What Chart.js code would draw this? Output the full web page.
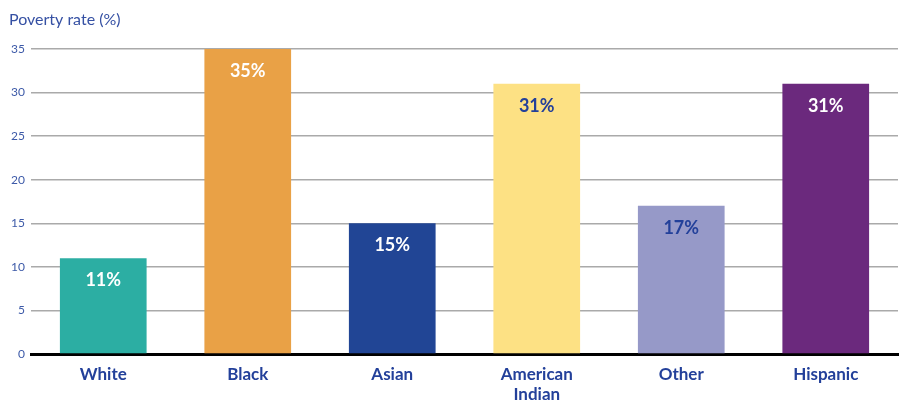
<!DOCTYPE html>
<html>
<head>
<meta charset="utf-8">
<script src="https://cdn.jsdelivr.net/npm/chart.js@4.4.1/dist/chart.umd.min.js"></script>
<style>
  html, body { margin: 0; padding: 0; background: #fff; }
  #wrap { width: 903px; height: 403px; }
</style>
</head>
<body>
<div id="wrap"><canvas id="chart"></canvas></div>
<script>
const categories = [["White"], ["Black"], ["Asian"], ["American", "Indian"], ["Other"], ["Hispanic"]];
const rates = [11, 35, 15, 31, 17, 31];
const barColors = ["#2caea3", "#e9a146", "#214595", "#fde184", "#9699c8", "#6b297d"];
const labelColors = ["#ffffff", "#ffffff", "#ffffff", "#23409a", "#23409a", "#ffffff"];
const axisTitle = "Poverty rate (%)";

const blue = "#23409a";

// value labels inside the bars + axis title top left
const barLabels = {
    id: "barLabels",
    afterDatasetsDraw(chart) {
        const ctx = chart.ctx;
        const meta = chart.getDatasetMeta(0);
        ctx.save();
        ctx.font = "bold 18px Lato";
        ctx.textAlign = "center";
        ctx.textBaseline = "middle";
        meta.data.forEach((bar, i) => {
            ctx.fillStyle = labelColors[i];
            ctx.fillText(rates[i] + "%", bar.x, bar.y + 22);
        });
        ctx.font = "16px Lato";
        ctx.textAlign = "left";
        ctx.fillStyle = "#3550a3";
        ctx.fillText(axisTitle, 9, 20);
        ctx.restore();
    }
};

new Chart(document.querySelector("#chart"), {
    type: "bar",
    data: {
        labels: categories,
        datasets: [{
            data: rates,
            backgroundColor: barColors,
            categoryPercentage: 1,
            barPercentage: 0.6
        }]
    },
    options: {
        responsive: true,
        maintainAspectRatio: false,
        animation: false,
        layout: { padding: { left: 0, right: 5, top: 49, bottom: 0 } },
        plugins: {
            legend: { display: false },
            tooltip: { enabled: false }
        },
        scales: {
            x: {
                grid: { display: false, drawTicks: false },
                border: { display: true, color: "#000", width: 3 },
                ticks: {
                    color: blue,
                    font: { family: "Lato", size: 17, weight: "bold" },
                    padding: 10,
                    maxRotation: 0
                },
                afterFit: s => { s.height = 49; }
            },
            y: {
                min: 0,
                max: 35,
                ticks: {
                    stepSize: 5,
                    color: "#3d5aa8",
                    font: { family: "Lato", size: 12 },
                    padding: 6
                },
                grid: { color: "#aaaaaa", lineWidth: 1.5, drawTicks: false },
                border: { display: false },
                afterFit: s => { s.width = 31; }
            }
        }
    },
    plugins: [barLabels]
});
</script>
</body>
</html>
